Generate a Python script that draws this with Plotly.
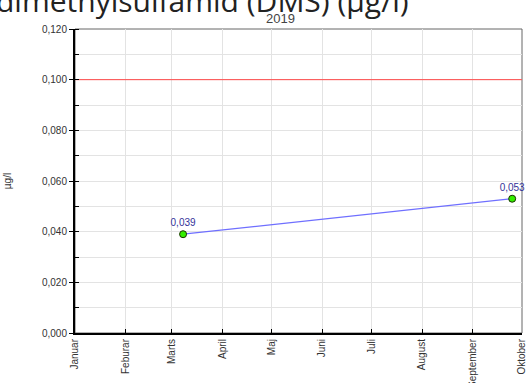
import plotly.graph_objects as go

# ---- data ----
dates = ["2019-03-08", "2019-09-25"]
values = [0.039, 0.053]
labels = ["0,039", "0,053"]
limit_value = 0.100
month_ticks = ["2019-01-01", "2019-02-01", "2019-03-01", "2019-04-01", "2019-05-01",
               "2019-06-01", "2019-07-01", "2019-08-01", "2019-09-01", "2019-10-01"]
month_names = ["Januar", "Feburar", "Marts", "April", "Maj", "Juni", "Juli",
               "August", "September", "Oktober"]
y_ticks = [0.0, 0.02, 0.04, 0.06, 0.08, 0.10, 0.12]
title_text = "dimethylsulfamid (DMS) (µg/l)"
subtitle_text = "2019"
y_title = "µg/l"

W, H = 526, 383
ML, MR, MT, MB = 75, 4, 29, 50
PW = W - ML - MR
PH = H - MT - MB

def px_x(px):
    return (px - ML) / PW

def px_y(py):
    return (H - MB - py) / PH

fig = go.Figure()
fig.add_trace(go.Scatter(
    x=[month_ticks[0], month_ticks[-1]], y=[limit_value, limit_value], mode="lines",
    line=dict(color="#ff4848", width=1), showlegend=False, hoverinfo="skip",
))
fig.add_trace(go.Scatter(
    x=dates, y=values, mode="lines+markers+text",
    text=labels, textposition="top center",
    textfont=dict(family="Liberation Sans, Arial", size=10, color="#333399"),
    line=dict(color="#6f6fff", width=1.2),
    marker=dict(color="#33ee00", size=7, line=dict(color="#1a3300", width=1)),
    cliponaxis=False, showlegend=False, hoverinfo="skip",
))

fig.add_shape(type="rect", xref="paper", yref="paper", x0=0, x1=1, y0=0, y1=1,
              line=dict(color="#666666", width=1), layer="between")

fig.add_annotation(text=title_text, xref="paper", yref="paper", x=px_x(411), y=px_y(23),
                   xanchor="right", yanchor="bottom", showarrow=False,
                   font=dict(family="Open Sans", size=30, color="#222222"))
fig.add_annotation(text=subtitle_text, xref="paper", yref="paper", x=px_x(280), y=px_y(28),
                   xanchor="center", yanchor="bottom", showarrow=False,
                   font=dict(family="Liberation Sans, Arial", size=13, color="#444444"))

fig.update_layout(
    width=W, height=H, margin=dict(l=ML, r=MR, t=MT, b=MB, pad=0, autoexpand=False),
    paper_bgcolor="white", plot_bgcolor="white",
    separators=",.",
    font=dict(family="Liberation Sans, Arial", size=10, color="#333333"),
    xaxis=dict(
        type="date", range=[month_ticks[0], month_ticks[-1]], automargin=False,
        tickvals=month_ticks, ticktext=month_names, tickangle=-90,
        ticklabeloverflow="allow",
        showgrid=True, gridcolor="#e3e3e3", gridwidth=1,
        ticks="inside", ticklen=4, tickcolor="#000000",
        showline=True, linecolor="#000000", linewidth=2,
        zeroline=False, tickfont=dict(size=10, color="#333333"),
    ),
    yaxis=dict(
        range=[0, 0.12], tickvals=y_ticks, tickformat=".3f", automargin=False,
        showgrid=True, gridcolor="#e3e3e3", gridwidth=1,
        ticks="outside", ticklen=4, tickcolor="#000000",
        minor=dict(dtick=0.01, showgrid=True, gridcolor="#e3e3e3", ticks="inside",
                   ticklen=4, tickcolor="#000000"),
        showline=True, linecolor="#000000", linewidth=2,
        zeroline=False, tickfont=dict(size=10, color="#333333"),
        title=dict(text=y_title, font=dict(size=10, color="#333333"), standoff=28),
    ),
)

fig.write_html("out.html", config={"displayModeBar": False},
               post_script="document.body.style.margin='0';document.body.style.overflow='hidden';")
